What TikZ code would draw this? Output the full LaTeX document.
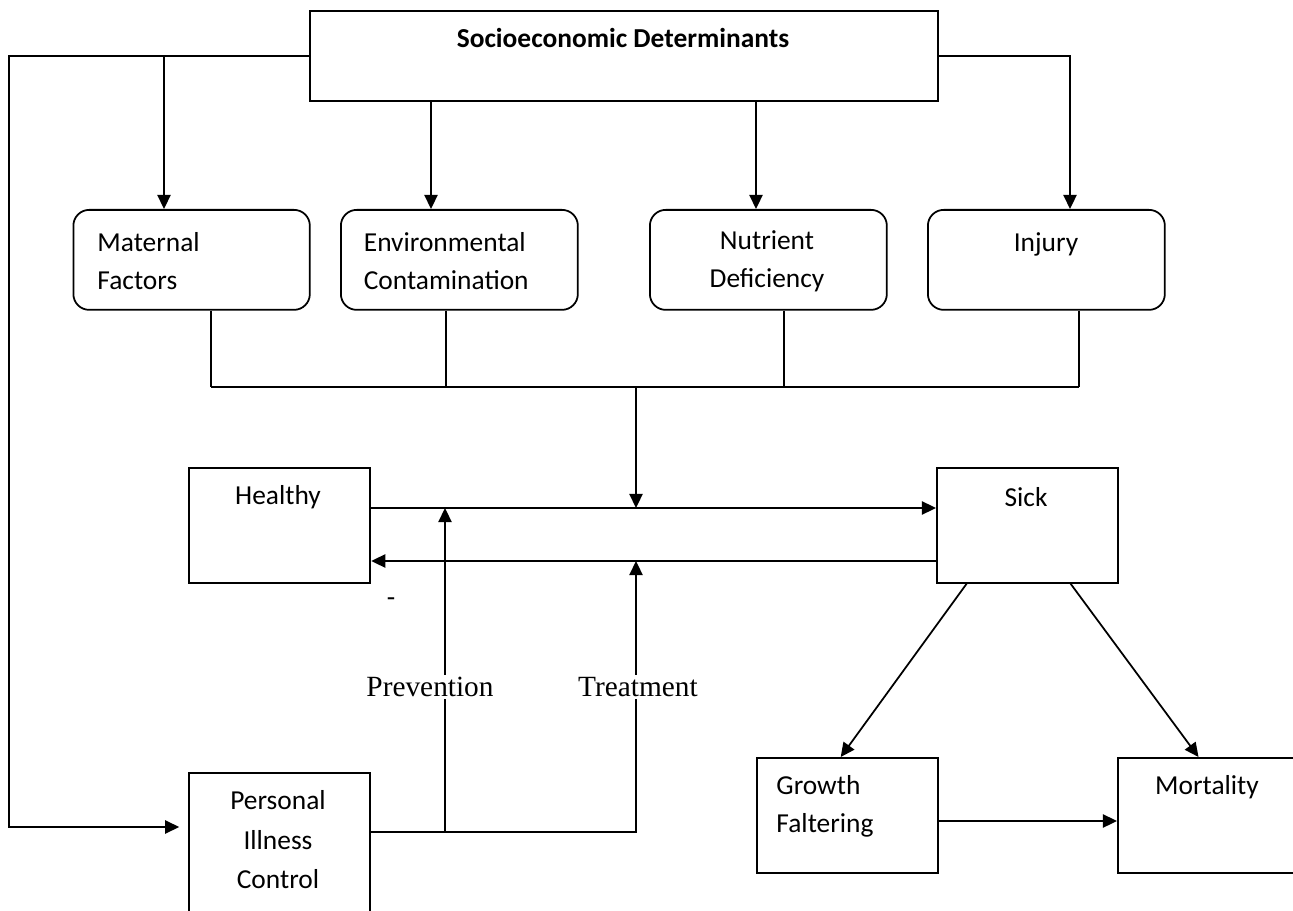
\documentclass[tikz,border=0pt]{standalone}
\usepackage{fontspec}
\setmainfont{Carlito}
\newfontfamily\serifface{Liberation Serif}
\usetikzlibrary{arrows.meta}
\newcommand\fz{\fontsize{15.6}{21.5}\selectfont}
\begin{document}
\begin{tikzpicture}[x=0.02cm,y=-0.02cm, line width=1pt,
  >={Triangle[length=8pt,width=7.5pt]},
  box/.style={draw, rectangle, inner sep=0pt, anchor=north west},
  rbox/.style={box, rounded corners=9pt},
  txt/.style={inner sep=0pt, font=\fz},
  lbl/.style={inner sep=1.5pt, fill=white, font=\serifface\fontsize{16.7}{20}\selectfont}]
\useasboundingbox (0,0) rectangle (1293,911);
\clip (0,0) rectangle (1293,911);
% boxes
\node[box, minimum width=12.56cm, minimum height=1.8cm] (top) at (309,10) {};
\node[rbox, minimum width=4.73cm, minimum height=2cm] (mat) at (72.5,209) {};
\node[rbox, minimum width=4.74cm, minimum height=2cm] (env) at (340,209) {};
\node[rbox, minimum width=4.74cm, minimum height=2cm] (nut) at (649,209) {};
\node[rbox, minimum width=4.74cm, minimum height=2cm] (inj) at (927,209) {};
\node[box, minimum width=3.63cm, minimum height=2.3cm] (hea) at (188,467) {};
\node[box, minimum width=3.63cm, minimum height=2.3cm] (sick) at (936,467) {};
\node[box, minimum width=3.63cm, minimum height=3cm] (pic) at (188,772) {};
\node[box, minimum width=3.62cm, minimum height=2.3cm] (grow) at (756,757) {};
\node[box, minimum width=3.7cm, minimum height=2.3cm] (mor) at (1117,757) {};
% texts
\node[txt, font=\fz\bfseries] (ttop) at (623,38) {Socioeconomic Determinants};
\node[txt, anchor=west, align=left] (tmat) at (96.6,261) {Maternal\\Factors};
\node[txt, anchor=west, align=left] (tenv) at (363,261) {Environmental\\Contamination};
\node[txt, align=center] (tnut) at (767,261) {Nutrient\\Deficiency};
\node[txt] (tinj) at (1046,244) {Injury};
\node[txt] (thea) at (278,497) {Healthy};
\node[txt] (tsick) at (1026,497) {Sick};
\node[txt, align=center, font=\fontsize{15.6}{22.5}\selectfont] (tpic) at (278,840) {Personal\\Illness\\Control};
\node[txt, anchor=west, align=left] (tgrow) at (775.6,806) {Growth\\Faltering};
\node[txt] (tmor) at (1207,787) {Mortality};
\node[txt] (dash) at (391,602) {-};
% coordinates
\coordinate (lc) at (9,827);
\coordinate (ms) at (164,57);
\coordinate (ex) at (431,0);
\coordinate (nx) at (756,0);
\coordinate (ix) at (1070,0);
\coordinate (b1) at (211,387);
\coordinate (b2) at (446,387);
\coordinate (b3) at (784,387);
\coordinate (b4) at (1079,387);
\coordinate (bc) at (636,387);
\coordinate (yA) at (0,508);
\coordinate (yB) at (0,561);
\coordinate (yC) at (0,832);
\coordinate (pv) at (445,832);
\coordinate (tr) at (636,561);
\coordinate (sg) at (966.6,0);
\coordinate (gx) at (840.7,0);
\coordinate (sm) at (1070.6,0);
\coordinate (mx) at (1198.5,0);
\coordinate (ym) at (0,821);
% connectors from top
\draw[->, shorten >=5pt] (top.west) -| (lc) -- (pic.west |- lc);
\draw[->] (ms) -- (ms |- mat.north);
\draw[->] (top.south -| ex) -- (env.north -| ex);
\draw[->] (top.south -| nx) -- (nut.north -| nx);
\draw[->] (top.east) -| (inj.north -| ix);
% collector
\draw (mat.south -| b1) -- (b1);
\draw (env.south -| b2) -- (b2);
\draw (nut.south -| b3) -- (b3);
\draw (inj.south -| b4) -- (b4);
\draw (b1) -- (b4);
\draw[->] (bc) -- (bc |- yA);
% healthy / sick
\draw[->] (hea.east |- yA) -- (sick.west |- yA);
\draw[->] (sick.west |- yB) -- (hea.east |- yB);
% personal control
\draw[->] (pic.east |- yC) -| (tr);
\draw[->] (pv) -- (pv |- yA);
\node[lbl] (prev) at (430,687) {Prevention};
\node[lbl] (treat) at (638,687) {Treatment};
% outcomes
\draw[->] (sick.south -| sg) -- (grow.north -| gx);
\draw[->] (sick.south -| sm) -- (mor.north -| mx);
\draw[->] (grow.east |- ym) -- (mor.west |- ym);
\end{tikzpicture}
\end{document}
